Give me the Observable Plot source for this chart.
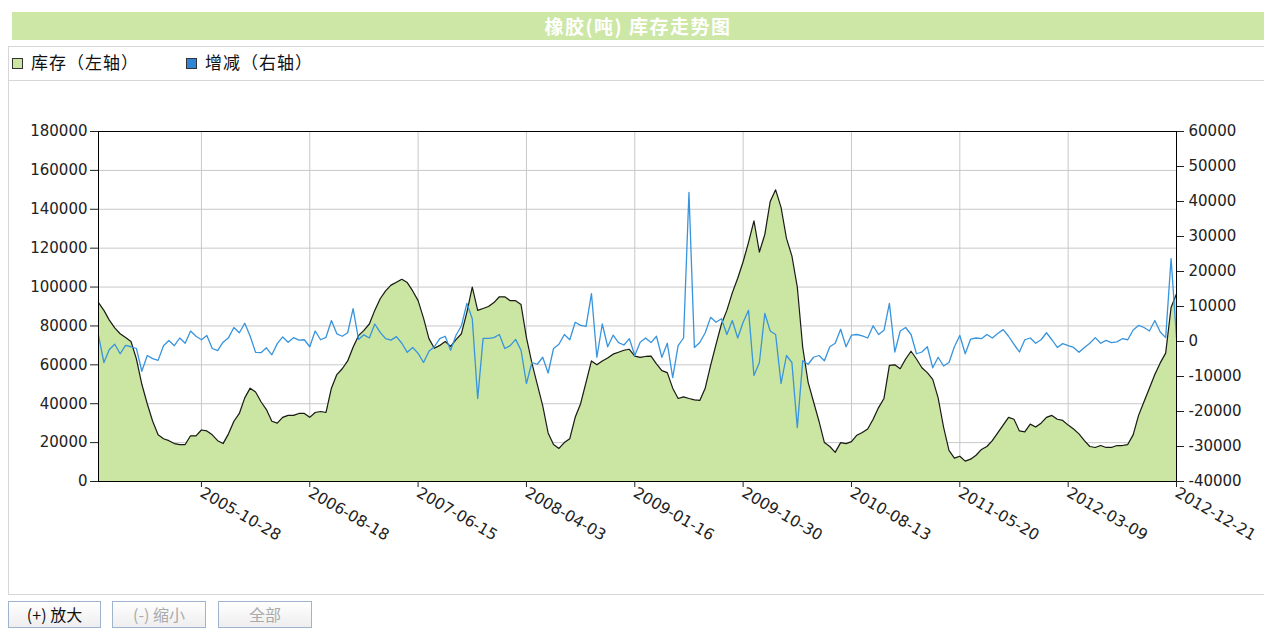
<!DOCTYPE html>
<html><head><meta charset="utf-8">
<script src="https://cdn.jsdelivr.net/npm/d3@7"></script>
<script src="https://cdn.jsdelivr.net/npm/@observablehq/plot@0.6"></script>
<style>
html,body{margin:0;padding:0;background:#fff;}
body{width:1264px;height:628px;overflow:hidden;position:relative;font-family:"Noto Sans CJK SC","DejaVu Sans",sans-serif;}
#title{position:absolute;left:12px;top:12px;width:1252px;height:28px;background:#cde7a6;color:#fff;font-weight:bold;font-size:19px;letter-spacing:1.5px;line-height:28px;text-align:center;}
#panel{position:absolute;left:8px;top:46px;width:1260px;height:549px;border:1px solid #d6d6d6;box-sizing:border-box;}
#legend{position:absolute;left:8px;top:47px;width:1256px;height:33px;border-bottom:1px solid #d6d6d6;font-size:17px;color:#111;}
.item{position:absolute;top:3px;line-height:24px;white-space:nowrap;letter-spacing:1px;}
.sw{display:inline-block;width:9px;height:9px;border:1px solid #333;margin-right:8px;vertical-align:0px;}
#chart{position:absolute;left:0;top:90px;}
.btn{position:absolute;top:601px;height:27px;border:1px solid #9fb4cc;box-sizing:border-box;background:linear-gradient(#ffffff,#eeeeee);font-size:16px;line-height:25px;text-align:center;font-family:"Noto Sans CJK SC","DejaVu Sans",sans-serif;}
</style>
</head><body>
<div id="title">橡胶(吨) 库存走势图</div>
<div id="panel"></div>
<div id="legend"></div>
<div id="chart"></div>
<div class="btn" style="left:8px;width:93px;color:#111;">(+) 放大</div>
<div class="btn" style="left:112px;width:94px;color:#aaa;">(-) 缩小</div>
<div class="btn" style="left:218px;width:94px;color:#aaa;">全部</div>
<script>
// 库存 (左轴), tons
const stock = [
92000,88000,83000,79000,76000,74000,72000,63000,50000,40000,
31000,24000,22000,21000,19500,19000,19000,23500,23500,26500,
26000,24000,21000,19500,24500,31000,35000,43000,48000,46000,
41000,37000,31000,30000,33000,34000,34000,35000,35000,33000,
35500,36000,35500,48000,55000,58000,62000,69000,75000,77700,
81000,88000,94000,98000,101000,102500,104000,102300,98000,93000,
84000,73500,68500,70000,72000,69500,73000,76000,87000,100000,
88000,89000,90000,92000,95000,95000,93000,93000,91000,74000,
61000,50000,39000,25000,19000,17000,20000,22000,33000,40000,
51000,62000,60000,62000,63500,65500,66500,67500,68000,64500,
63800,64300,64500,60500,57000,56000,48000,42700,43500,42700,
42000,41700,48000,59700,70500,81000,88000,97000,104500,113000,
123000,134000,118000,127000,144000,150000,141000,125000,116000,100000,
69000,51000,41000,31000,20000,18000,15000,20000,19500,20500,
23800,25200,27000,32000,38000,42700,59700,60000,58000,63000,
67000,63000,58500,56000,52500,43000,28000,16000,12000,13000,
10500,11500,13500,16500,18000,21000,25000,29000,33000,32000,
26000,25500,29500,28000,30000,33000,34000,32000,31400,29000,
27000,24500,21000,18000,17500,18500,17500,17500,18500,18500,
19000,24000,34000,41000,48000,55000,61000,66000,89500,96500];
// 增减 (右轴), tons
const change = [
1700,-6000,-2300,-800,-3500,-1100,-1500,-2000,-8500,-4000,
-4900,-5400,-1200,300,-1200,1000,-500,3000,1500,500,
1700,-2000,-2600,-200,1100,4000,2500,5200,1500,-3100,
-3200,-1800,-3800,-600,1300,-200,1100,400,500,-1500,
3000,500,1200,6000,2200,1500,2500,9400,600,1900,
1000,5000,2600,800,400,1400,-500,-3100,-1700,-3400,
-6000,-2800,-1500,800,1500,-2500,1800,4500,10900,6500,
-16300,900,900,1100,2000,-2000,-1200,600,-2500,-12000,
-6000,-6500,-4500,-9000,-2000,-800,2000,500,5500,4600,
4300,13700,-4500,5000,-1500,1800,-300,-1000,800,-4000,
-200,1000,-300,1500,-4500,-500,-10300,-1200,1000,42600,
-1700,-300,2500,6900,5500,6500,2000,6000,1000,5500,
8900,-9700,-6000,8000,3000,2000,-12000,-4000,-6000,-24600,
-5500,-6500,-4500,-4000,-5500,-1500,-500,3500,-1500,1800,
2000,1600,1000,4500,2000,3200,10900,-3000,3000,4000,
2000,-3500,-3000,-1500,-7500,-4500,-7000,-6000,-1500,1700,
-3500,700,1000,800,2000,1000,2300,3400,1500,-800,
-3000,500,1000,-500,500,2500,500,-1700,-600,-1200,
-1700,-3100,-1700,-500,1100,-500,300,-300,-100,800,
500,3300,4600,4000,3000,6000,2700,1100,23700,1000];
const tickLabels = ["2005-10-28","2006-08-18","2007-06-15","2008-04-03","2009-01-16","2009-10-30","2010-08-13","2011-05-20","2012-03-09","2012-12-21"];
const tickIndex = [19,39,59,79,99,119,139,159,179,199];
const leftTicks = [0,20000,40000,60000,80000,100000,120000,140000,160000,180000];
const rightTicks = [-40000,-30000,-20000,-10000,0,10000,20000,30000,40000,50000,60000];
const legendItems = [{name:"库存（左轴）", color:"#cbe6a3"},{name:"增减（右轴）", color:"#2f86d6"}];

const leftMax = leftTicks[leftTicks.length-1];
const rMin = rightTicks[0], rMax = rightTicks[rightTicks.length-1];
const toLeft = v => (v - rMin) * leftMax / (rMax - rMin);
const fromLeft = v => Math.round(v * (rMax - rMin) / leftMax + rMin);
const labelMap = new Map(tickIndex.map((t,i)=>[t,tickLabels[i]]));

const lg = document.getElementById("legend");
const lefts = [4, 178];
legendItems.forEach((it,i)=>{
  const d = document.createElement("div");
  d.className = "item"; d.style.left = lefts[i]+"px";
  d.innerHTML = `<span class="sw" style="background:${it.color}"></span>${it.name}`;
  lg.appendChild(d);
});

const chart = Plot.plot({
  width: 1264, height: 500,
  marginLeft: 98, marginRight: 88, marginTop: 41, marginBottom: 109,
  style: {fontFamily: "DejaVu Sans", fontSize: "15px", color: "#222", background: "transparent", overflow: "visible"},
  x: {domain: [0, stock.length - 1]},
  y: {domain: [0, leftMax]},
  marks: [
    Plot.gridY(leftTicks, {stroke: "#c8c8c8", strokeOpacity: 1}),
    Plot.gridX(tickIndex, {stroke: "#c8c8c8", strokeOpacity: 1}),
    Plot.areaY(stock, {x: (d,i)=>i, y: d=>d, fill: "#cbe6a3"}),
    Plot.lineY(stock, {x: (d,i)=>i, y: d=>d, stroke: "#1a1a1a", strokeWidth: 1.2}),
    Plot.lineY(change, {x: (d,i)=>i, y: d=>toLeft(d), stroke: "#3794dd", strokeWidth: 1.3}),
    Plot.frame({stroke: "#000"}),
    Plot.axisY({ticks: leftTicks, tickFormat: d=>String(d), tickSize: 8, tickPadding: 3, label: null}),
    Plot.axisY({anchor: "right", ticks: rightTicks.map(toLeft), tickFormat: d=>String(fromLeft(d)), tickSize: 7, tickPadding: 5, label: null}),
    Plot.axisX({ticks: tickIndex, tickFormat: d=>labelMap.get(d), tickRotate: 30, tickSize: 6, tickPadding: 4, fontSize: 15.5, label: null})
  ]
});
document.getElementById("chart").appendChild(chart);
</script>
</body></html>
